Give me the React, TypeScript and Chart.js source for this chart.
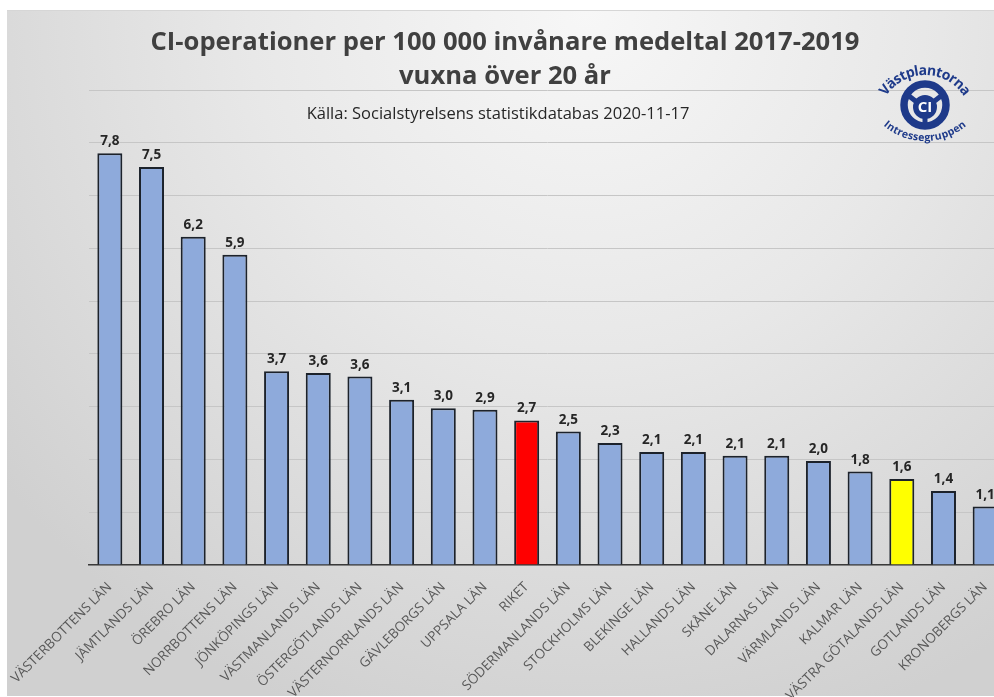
import { useEffect, useRef } from 'react';
import { Chart, registerables } from 'chart.js';

Chart.register(...registerables);

const titleLines = ['CI-operationer per 100 000 invånare medeltal 2017-2019', 'vuxna över 20 år'];
const subtitleText = 'Källa: Socialstyrelsens statistikdatabas 2020-11-17';
const logoTop = 'Västplantorna';
const logoBottom = 'Intressegruppen';
const logoCenter = 'CI';

const categories = [
  'VÄSTERBOTTENS LÄN', 'JÄMTLANDS LÄN', 'ÖREBRO LÄN', 'NORRBOTTENS LÄN', 'JÖNKÖPINGS LÄN',
  'VÄSTMANLANDS LÄN', 'ÖSTERGÖTLANDS LÄN', 'VÄSTERNORRLANDS LÄN', 'GÄVLEBORGS LÄN', 'UPPSALA LÄN',
  'RIKET', 'SÖDERMANLANDS LÄN', 'STOCKHOLMS LÄN', 'BLEKINGE LÄN', 'HALLANDS LÄN', 'SKÅNE LÄN',
  'DALARNAS LÄN', 'VÄRMLANDS LÄN', 'KALMAR LÄN', 'VÄSTRA GÖTALANDS LÄN', 'GOTLANDS LÄN', 'KRONOBERGS LÄN',
];
const values = [
  7.80, 7.54, 6.22, 5.88, 3.67, 3.64, 3.57, 3.13, 2.97, 2.94, 2.74,
  2.53, 2.31, 2.14, 2.14, 2.07, 2.07, 1.97, 1.77, 1.63, 1.40, 1.11,
];
const redCategory = 'RIKET';
const yellowCategory = 'VÄSTRA GÖTALANDS LÄN';
const yMin = 0;
const yMax = 9;
const yStep = 1;

const BLUE = '#8eaadb';
const NAVY = '#1e3a8a';
const FONT = '"Open Sans", "DejaVu Sans", sans-serif';

function arcText(ctx: CanvasRenderingContext2D, text: string, cx: number, cy: number, r: number, midAngle: number, top: boolean) {
  const widths = Array.from(text).map((ch) => ctx.measureText(ch).width);
  const total = widths.reduce((a, b) => a + b, 0);
  const span = total / r;
  let acc = 0;
  Array.from(text).forEach((ch, i) => {
    const w = widths[i];
    const a = top ? midAngle - span / 2 + (acc + w / 2) / r : midAngle + span / 2 - (acc + w / 2) / r;
    ctx.save();
    ctx.translate(cx + r * Math.cos(a), cy + r * Math.sin(a));
    ctx.rotate(top ? a + Math.PI / 2 : a - Math.PI / 2);
    ctx.fillText(ch, 0, 0);
    ctx.restore();
    acc += w;
  });
}

const decoPlugin = {
  id: 'deco',
  afterDatasetsDraw(chart: any) {
    const ctx: CanvasRenderingContext2D = chart.ctx;
    const meta = chart.getDatasetMeta(0);
    ctx.save();
    ctx.font = `bold 13.5px ${FONT}`;
    ctx.fillStyle = '#262626';
    ctx.textAlign = 'center';
    ctx.textBaseline = 'bottom';
    meta.data.forEach((el: any, i: number) => {
      const label = values[i].toFixed(1).replace('.', ',');
      ctx.fillText(label, el.x, el.y - 5);
    });
    ctx.restore();
  },
  afterDraw(chart: any) {
    const ctx: CanvasRenderingContext2D = chart.ctx;
    ctx.save();
    ctx.textAlign = 'center';
    ctx.textBaseline = 'middle';
    ctx.fillStyle = '#404040';
    ctx.font = `bold 25.6px ${FONT}`;
    ctx.fillText(titleLines[0], 505, 43);
    ctx.fillText(titleLines[1], 505, 77);
    ctx.fillStyle = '#262626';
    ctx.font = `16.5px ${FONT}`;
    ctx.fillText(subtitleText, 498, 114);

    // logo
    const cx = 925;
    const cy = 105;
    ctx.strokeStyle = NAVY;
    ctx.fillStyle = NAVY;
    ctx.lineWidth = 7.5;
    ctx.beginPath();
    ctx.arc(cx, cy, 21, 0, Math.PI * 2);
    ctx.stroke();
    ctx.lineWidth = 5;
    [-150, -30, 90].forEach((deg) => {
      const a = (deg * Math.PI) / 180;
      ctx.beginPath();
      ctx.moveTo(cx + 8 * Math.cos(a), cy + 2 + 8 * Math.sin(a));
      ctx.lineTo(cx + 20 * Math.cos(a), cy + 20 * Math.sin(a));
      ctx.stroke();
    });
    ctx.beginPath();
    ctx.arc(cx, cy + 2, 12, 0, Math.PI * 2);
    ctx.fill();
    ctx.fillStyle = '#ffffff';
    ctx.font = `bold 15px ${FONT}`;
    ctx.fillText(logoCenter, cx, cy + 2.5);
    ctx.fillStyle = NAVY;
    ctx.font = `bold 14px ${FONT}`;
    arcText(ctx, logoTop, cx, cy + 16, 50, -Math.PI / 2, true);
    ctx.font = `bold 10.5px ${FONT}`;
    arcText(ctx, logoBottom, cx, cy - 28, 61, Math.PI / 2, false);
    ctx.restore();
  },
};

export default function App() {
  const ref = useRef<HTMLCanvasElement>(null);
  useEffect(() => {
    const colors = categories.map((c) => (c === redCategory ? '#ff0000' : c === yellowCategory ? '#ffff00' : BLUE));
    const chart = new Chart(ref.current as HTMLCanvasElement, {
      type: 'bar',
      data: {
        labels: categories,
        datasets: [
          {
            data: values,
            backgroundColor: colors,
            borderColor: '#1c222b',
            borderWidth: 2,
            borderSkipped: 'bottom',
            categoryPercentage: 1,
            barPercentage: 0.6,
          },
        ],
      },
      options: {
        responsive: false,
        animation: false,
        devicePixelRatio: 1,
        layout: { padding: { top: 90, right: 4, left: 0, bottom: 0 } },
        plugins: { legend: { display: false }, tooltip: { enabled: false }, title: { display: false } },
        scales: {
          x: {
            grid: { display: false },
            border: { display: true, color: '#3a3a3a', width: 1.5 },
            ticks: {
              autoSkip: false,
              maxRotation: 45,
              minRotation: 45,
              color: '#595959',
              padding: 6,
              font: { family: FONT, size: 13.5 },
            },
            afterFit: (scale: any) => {
              scale.height = 132;
            },
          },
          y: {
            min: yMin,
            max: yMax,
            ticks: { display: false, stepSize: yStep },
            grid: { color: '#c6c6c6', lineWidth: 1, drawTicks: false },
            border: { display: false },
            afterFit: (scale: any) => {
              scale.width = 89;
            },
          },
        },
      },
      plugins: [decoPlugin],
    });
    return () => chart.destroy();
  }, []);

  return (
    <div style={{ position: 'fixed', left: 0, top: 0, width: 994, height: 697, overflow: 'hidden', background: '#ffffff' }}>
      <div
        style={{
          position: 'absolute',
          left: 7,
          top: 10,
          width: 1000,
          height: 685,
          borderTop: '1px solid #d6d6d6',
          background: 'radial-gradient(ellipse 75% 110% at 58% 0%, #f7f7f7 0%, #e8e8e8 45%, #d0d0d0 100%)',
        }}
      />
      <canvas ref={ref} width={1010} height={697} style={{ position: 'absolute', left: 0, top: 0, width: 1010, height: 697 }} />
    </div>
  );
}
